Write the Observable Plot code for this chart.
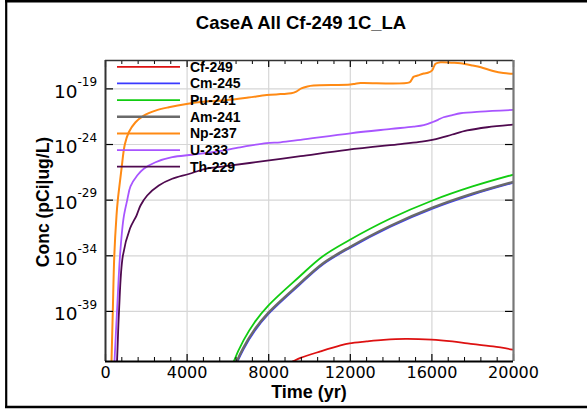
<!DOCTYPE html>
<html><head><meta charset="utf-8">
<script src="https://cdn.jsdelivr.net/npm/d3@7"></script>
<script src="https://cdn.jsdelivr.net/npm/@observablehq/plot@0.6"></script>
<style>html,body{margin:0;padding:0;background:#fff;} svg{display:block;}</style>
</head><body><div id="chart"></div>
<script>
const title = "CaseA All Cf-249 1C_LA";
const xLabel = "Time (yr)";
const yLabel = "Conc (pCi|ug/L)";
const seriesNames = ["Cf-249", "Cm-245", "Pu-241", "Am-241", "Np-237", "U-233", "Th-229"];
const seriesColors = ["#dd1111", "#3a3aff", "#11cc11", "#6a6a6a", "#ff8a14", "#a855ff", "#4f0a4f"];
const seriesWidths = [1.8, 1.8, 1.8, 2.4, 2, 1.8, 1.8];
const xTicks = [0, 4000, 8000, 12000, 16000, 20000];
const yTickExps = [-19, -24, -29, -34, -39];

// time (yr) and log10 of concentration (pCi|ug/L)
const cfTime = [8800, 9216, 9559, 10539, 11520, 11961, 12800, 13628, 14706, 15981, 17000, 17745, 19000, 20000];
const cfLog  = [-43.85, -43.47, -43.18, -42.59, -42.05, -41.87, -41.70, -41.56, -41.47, -41.54, -41.70, -41.87, -42.15, -42.44];

const cmTime = [6100, 6289, 6765, 7304, 7990, 9461, 10637, 11961, 13971, 16030, 17990, 20000];
const cmLog  = [-45.4, -44.3, -42.4, -40.78, -39.23, -36.70, -34.80, -33.31, -31.38, -29.76, -28.50, -27.43];

const puTime = [6100, 6289, 6765, 7304, 7990, 9461, 10637, 11961, 13971, 16030, 17990, 20000];
const puLog  = [-44.6, -43.49, -41.60, -39.99, -38.46, -35.95, -34.06, -32.58, -30.65, -29.03, -27.77, -26.70];

const amTime = [6100, 6289, 6765, 7304, 7990, 9461, 10637, 11961, 13971, 16030, 17990, 20000];
const amLog  = [-45.25, -44.14, -42.25, -40.64, -39.11, -36.60, -34.71, -33.23, -31.30, -29.68, -28.42, -27.35];

const npTime = [250, 294, 358, 431, 539, 603, 686, 784, 946, 1142, 1471, 1877, 2451, 3103, 3971, 4902, 5882, 7000, 7900, 8578, 9100, 9350, 9600, 9900, 10200, 12000, 12250, 12500, 14900, 15000, 15100, 15300, 15600, 15800, 16000, 16100, 16180, 16420, 17000, 17400, 18000, 18400, 19000, 19500, 20000];
const npLog  = [-46.5, -43.5, -39, -34, -30.4, -29, -27.68, -26.18, -24, -22.9, -22.0, -21.40, -20.95, -20.65, -20.35, -20.14, -20.02, -19.78, -19.56, -19.47, -19.40, -19.25, -18.95, -18.78, -18.70, -18.61, -18.53, -18.47, -18.41, -18.2, -17.92, -17.8, -17.62, -17.55, -17.36, -17.0, -16.75, -16.61, -16.65, -16.70, -16.9, -17.06, -17.4, -17.58, -17.65];

const uTime = [400, 441, 564, 711, 882, 1064, 1225, 1554, 1877, 2451, 3270, 4250, 5392, 6600, 7892, 8578, 9559, 12010, 14000, 15098, 15600, 16015, 16300, 16569, 17000, 17402, 18382, 20000];
const uLog  = [-46, -43.5, -39, -34, -30.65, -29, -27.77, -26.79, -26.18, -25.59, -25.14, -24.92, -24.65, -24.25, -23.87, -23.80, -23.58, -22.99, -22.60, -22.39, -22.25, -22.0, -21.78, -21.55, -21.35, -21.19, -21.04, -20.89];

const thTime = [480, 564, 662, 850, 1200, 1520, 1716, 2044, 2613, 3270, 4083, 4902, 5882, 7926, 9559, 11848, 14461, 15500, 16015, 16422, 17000, 17730, 18711, 20000];
const thLog  = [-46, -43.5, -39, -34, -31.55, -30.38, -29.48, -28.58, -27.68, -27.08, -26.65, -26.18, -25.95, -25.45, -25.05, -24.48, -23.96, -23.75, -23.58, -23.40, -23.1, -22.74, -22.45, -22.21];

const seriesTimes = [cfTime, cmTime, puTime, amTime, npTime, uTime, thTime];
const seriesLogs = [cfLog, cmLog, puLog, amLog, npLog, uLog, thLog];

const W = 587, H = 409, mL = 105, mR = 74, mT = 60, mB = 48;
const frameW = W - mL - mR, frameH = H - mT - mB;
const yDomain = [Math.pow(10, -43.5), Math.pow(10, -16.45)];
const yTickVals = yTickExps.map(e => Math.pow(10, e));
const xMinor = d3.range(0, 20001, 800).filter(v => v % 4000 !== 0);

const lineMarks = seriesNames.map((name, i) => {
  const data = seriesTimes[i].map((t, j) => ({t, c: Math.pow(10, seriesLogs[i][j])}));
  return Plot.line(data, {x: "t", y: "c", stroke: seriesColors[i], strokeWidth: seriesWidths[i], curve: "catmull-rom", clip: true});
});

const plot = Plot.plot({
  width: W, height: H,
  marginLeft: mL, marginRight: mR, marginTop: mT, marginBottom: mB,
  style: {background: "transparent", fontFamily: "DejaVu Sans", color: "#000"},
  x: {domain: [0, 20000], axis: null},
  y: {type: "log", domain: yDomain, axis: null},
  marks: [
    Plot.ruleX(xTicks.slice(1, -1), {stroke: "#d6d6d6", strokeWidth: 1.2}),
    Plot.ruleY(yTickVals, {stroke: "#d6d6d6", strokeWidth: 1.2}),
    ...lineMarks,
    // inward ticks
    Plot.ruleX(xTicks, {stroke: "#000", strokeWidth: 1.2, insetTop: frameH - 7}),
    Plot.ruleX(xTicks, {stroke: "#000", strokeWidth: 1.2, insetBottom: frameH - 7}),
    Plot.ruleX(xMinor, {stroke: "#000", strokeWidth: 1, insetTop: frameH - 4}),
    Plot.ruleX(xMinor, {stroke: "#000", strokeWidth: 1, insetBottom: frameH - 4}),
    Plot.ruleY(yTickVals, {stroke: "#000", strokeWidth: 1.2, insetRight: frameW - 8}),
    Plot.ruleY(yTickVals, {stroke: "#000", strokeWidth: 1.2, insetLeft: frameW - 8}),
    // frame
    Plot.ruleY([yDomain[1]], {stroke: "#333", strokeWidth: 1.5}),
    Plot.ruleX([20000], {stroke: "#777", strokeWidth: 2.2}),
    Plot.ruleX([0], {stroke: "#333", strokeWidth: 2}),
    Plot.ruleY([yDomain[0]], {stroke: "#000", strokeWidth: 2}),
    // tick labels
    Plot.text(xTicks, {x: d => d, text: d => String(d), frameAnchor: "bottom", lineAnchor: "top", dy: 5, fontSize: 16, fill: "#000"}),
    Plot.text(yTickVals, {y: d => d, text: () => "10", frameAnchor: "left", textAnchor: "end", dx: -28, dy: 3, fontSize: 18.5, fill: "#000"}),
    Plot.text(yTickExps, {y: d => Math.pow(10, d), text: d => String(d), frameAnchor: "left", textAnchor: "start", dx: -28, dy: -6.5, fontSize: 12, fill: "#000"})
  ]
});

const svg = d3.select(plot);
const ff = "'Liberation Sans', Arial, sans-serif";
svg.append("text").attr("x", 301).attr("y", 28.5).attr("text-anchor", "middle")
  .attr("font-family", ff).attr("font-weight", "bold").attr("font-size", 18.5).attr("fill", "#000").text(title);
svg.append("text").attr("x", 309).attr("y", 398).attr("text-anchor", "middle")
  .attr("font-family", ff).attr("font-weight", "bold").attr("font-size", 18).attr("fill", "#000").text(xLabel);
svg.append("text").attr("transform", "translate(48.5,202) rotate(-90)").attr("text-anchor", "middle")
  .attr("font-family", ff).attr("font-weight", "bold").attr("font-size", 17.5).attr("fill", "#000").text(yLabel);

// legend
const lg = svg.append("g");
seriesNames.forEach((name, i) => {
  const y = 66.8 + i * 16.65;
  lg.append("line").attr("x1", 117).attr("x2", 180).attr("y1", y).attr("y2", y)
    .attr("stroke", seriesColors[i]).attr("stroke-width", seriesWidths[i]);
  lg.append("text").attr("x", 190).attr("y", y).attr("dy", "0.36em").attr("text-anchor", "start")
    .attr("font-family", ff).attr("font-weight", "bold").attr("font-size", 14).attr("fill", "#000").text(name);
});

// outer border
svg.append("line").attr("x1", 5).attr("x2", W).attr("y1", 1.3).attr("y2", 1.3).attr("stroke", "#000").attr("stroke-width", 2.6);
svg.append("line").attr("x1", 6.2).attr("x2", 6.2).attr("y1", 0).attr("y2", 408).attr("stroke", "#000").attr("stroke-width", 2.2);
svg.append("line").attr("x1", 5).attr("x2", W).attr("y1", 407).attr("y2", 407).attr("stroke", "#000").attr("stroke-width", 2.6);

document.getElementById("chart").appendChild(plot);
</script>
</body></html>
